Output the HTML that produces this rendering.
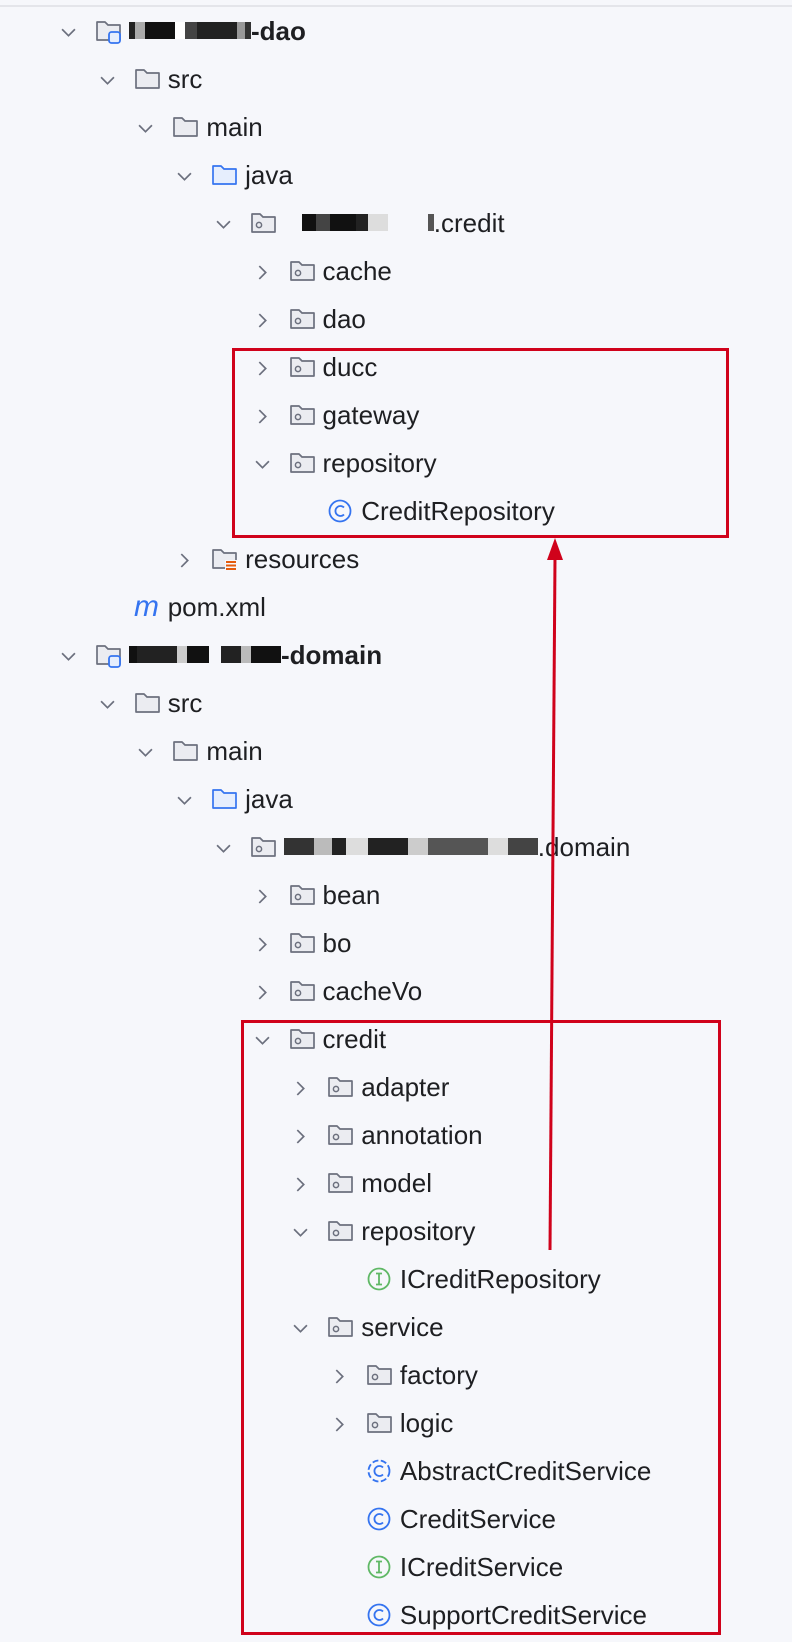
<!DOCTYPE html>
<html><head><meta charset="utf-8">
<style>
html,body{margin:0;padding:0}
body{width:792px;height:1642px;background:#f6f7fb;position:relative;overflow:hidden;font-family:"Liberation Sans",sans-serif;color:#1e1f22}
.top{position:absolute;left:0;top:5px;width:792px;height:2px;background:#e4e5ea}
.r{position:absolute;height:32px;line-height:32px;font-size:26px;white-space:nowrap}
.ch{position:absolute;width:15px;height:15px}
.ic{position:absolute;width:28px;height:26px}
.b{font-weight:bold}
.bl{display:inline-block;height:17px;vertical-align:middle;margin-top:-4px}
.box{position:absolute;border:3px solid #d0021b;box-sizing:border-box}
</style></head><body>
<div class="top"></div>
<div id="tree"></div>
<div class="box" style="left:232px;top:348px;width:497px;height:190px"></div>
<div class="box" style="left:241px;top:1020px;width:480px;height:615px"></div>
<svg style="position:absolute;left:0;top:0" width="792" height="1642">
<line x1="550" y1="1250" x2="555" y2="558" stroke="#d0021b" stroke-width="3"/>
<polygon points="555,538 547,560 563,560" fill="#d0021b"/>
</svg>
<script>
var rows=[
[0,'e','mod','<span class="b"><span class="bl" style="width:6px;background:#222"></span><span class="bl" style="width:10px;background:#aaa"></span><span class="bl" style="width:30px;background:#111"></span><span class="bl" style="width:10px;background:#fff"></span><span class="bl" style="width:12px;background:#444"></span><span class="bl" style="width:40px;background:#222"></span><span class="bl" style="width:8px;background:#999"></span><span class="bl" style="width:6px;background:#333"></span>-dao</span>'],
[1,'e','f','src'],[2,'e','f','main'],[3,'e','j','java'],
[4,'e','p','<span style="display:inline-block;width:18px"></span><span class="bl" style="width:14px;background:#111"></span><span class="bl" style="width:14px;background:#444"></span><span class="bl" style="width:26px;background:#111"></span><span class="bl" style="width:12px;background:#222"></span><span class="bl" style="width:20px;background:#ddd"></span><span class="bl" style="width:40px;background:transparent"></span><span class="bl" style="width:6px;background:#555"></span>.credit'],
[5,'c','p','cache'],[5,'c','p','dao'],[5,'c','p','ducc'],[5,'c','p','gateway'],[5,'e','p','repository'],
[6,'','C','CreditRepository'],[3,'c','res','resources'],[1,'','m','pom.xml'],
[0,'e','mod','<span class="b"><span class="bl" style="width:8px;background:#111"></span><span class="bl" style="width:40px;background:#222"></span><span class="bl" style="width:10px;background:#ccc"></span><span class="bl" style="width:22px;background:#111"></span><span class="bl" style="width:12px;background:transparent"></span><span class="bl" style="width:20px;background:#222"></span><span class="bl" style="width:10px;background:#bbb"></span><span class="bl" style="width:30px;background:#111"></span>-domain</span>'],
[1,'e','f','src'],[2,'e','f','main'],[3,'e','j','java'],
[4,'e','p','<span class="bl" style="width:30px;background:#333"></span><span class="bl" style="width:18px;background:#bbb"></span><span class="bl" style="width:14px;background:#222"></span><span class="bl" style="width:22px;background:#ddd"></span><span class="bl" style="width:40px;background:#222"></span><span class="bl" style="width:20px;background:#ccc"></span><span class="bl" style="width:60px;background:#555"></span><span class="bl" style="width:20px;background:#ddd"></span><span class="bl" style="width:30px;background:#444"></span>.domain'],
[5,'c','p','bean'],[5,'c','p','bo'],[5,'c','p','cacheVo'],[5,'e','p','credit'],
[6,'c','p','adapter'],[6,'c','p','annotation'],[6,'c','p','model'],[6,'e','p','repository'],
[7,'','I','ICreditRepository'],[6,'e','p','service'],[7,'c','p','factory'],[7,'c','p','logic'],
[7,'','A','AbstractCreditService'],[7,'','C','CreditService'],[7,'','I','ICreditService'],[7,'','C','SupportCreditService']];
var folder='<path d="M2 4h8l3 3h12v15H2z" fill="FILL" stroke="STROKE" stroke-width="1.7" stroke-linejoin="round"/>';
function icon(t){
 var s='<svg class="ic" viewBox="0 0 28 26" width="28" height="26">';
 if(t=='f')s+=folder.replace('FILL','#ebecf1').replace('STROKE','#6c707e');
 else if(t=='j')s+=folder.replace('FILL','#e6eefd').replace('STROKE','#3574f0');
 else if(t=='p')s+=folder.replace('FILL','#ebecf1').replace('STROKE','#6c707e')+'<circle cx="9" cy="15" r="2.6" fill="none" stroke="#6c707e" stroke-width="1.5"/>';
 else if(t=='mod')s+=folder.replace('FILL','#ebecf1').replace('STROKE','#6c707e')+'<rect x="14" y="14" width="11" height="11" rx="2.5" fill="#e6eefd" stroke="#3574f0" stroke-width="1.8"/>';
 else if(t=='res')s+=folder.replace('FILL','#ebecf1').replace('STROKE','#6c707e')+'<rect x="14" y="14" width="12" height="11" fill="#f6f7fb"/><path d="M15 16h10M15 19.5h10M15 23h10" stroke="#e55b0c" stroke-width="2"/>';
 else if(t=='C'||t=='A')s+='<circle cx="13" cy="13" r="10.5" fill="none" stroke="#3574f0" stroke-width="1.8"'+(t=='A'?' stroke-dasharray="6 2.5"':'')+'/><path d="M17 9.5a5 5 0 1 0 0 7" fill="none" stroke="#3574f0" stroke-width="1.8"/>';
 else if(t=='I')s+='<circle cx="13" cy="13" r="10.5" fill="none" stroke="#5fb865" stroke-width="1.8"/><path d="M10 7.5h6M10 18.5h6M13 7.5v11" stroke="#5fb865" stroke-width="1.8"/>';
 else if(t=='m')s+='<text x="0" y="22" font-family="Liberation Sans,sans-serif" font-style="italic" font-size="30" fill="#3574f0">m</text>';
 return s+'</svg>';
}
var h='';
rows.forEach(function(r,i){
 var cy=31.5+48*i, tx=132+38.7*r[0];
 if(r[1]=='e')h+='<svg class="ch" style="left:'+(tx-71)+'px;top:'+(cy-7)+'px" viewBox="0 0 14 14"><path d="M1 4l6 6 6-6" fill="none" stroke="#6c707e" stroke-width="1.6"/></svg>';
 if(r[1]=='c')h+='<svg class="ch" style="left:'+(tx-71)+'px;top:'+(cy-7)+'px" viewBox="0 0 14 14"><path d="M4 1l6 6-6 6" fill="none" stroke="#6c707e" stroke-width="1.6"/></svg>';
 h+='<div style="position:absolute;left:'+(tx-37)+'px;top:'+(cy-14)+'px">'+icon(r[2])+'</div>';
 h+='<div class="r" style="left:'+(tx-3)+'px;top:'+(cy-17)+'px">'+r[3]+'</div>';
});
document.getElementById('tree').innerHTML=h;
</script>
</body></html>
